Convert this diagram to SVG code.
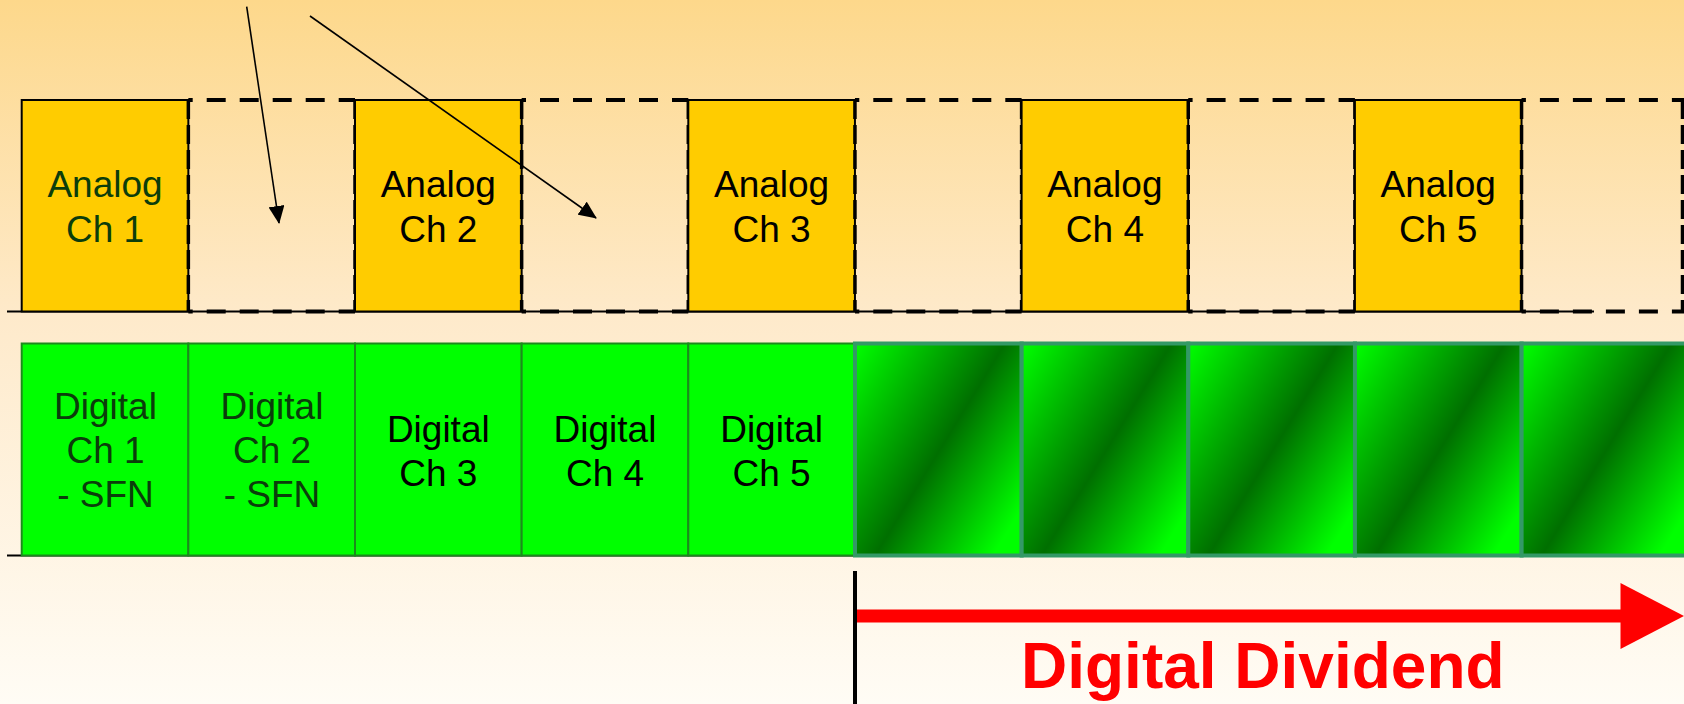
<svg xmlns="http://www.w3.org/2000/svg" width="1684" height="704" viewBox="0 0 1684 704">
  <defs>
    <linearGradient id="bg" x1="0" y1="0" x2="0" y2="1">
      <stop offset="0" stop-color="#FDD88B"/>
      <stop offset="0.45" stop-color="#FEEACB"/>
      <stop offset="1" stop-color="#FFFCF5"/>
    </linearGradient>
    <linearGradient id="dd" x1="0" y1="0" x2="1" y2="0.78">
      <stop offset="0" stop-color="#00FF00"/>
      <stop offset="0.56" stop-color="#006F00"/>
      <stop offset="1" stop-color="#00FF00"/>
    </linearGradient>
    <marker id="ah" markerUnits="userSpaceOnUse" markerWidth="18" markerHeight="16" viewBox="0 0 18 16" refX="17" refY="8" orient="auto">
      <path d="M0,0 L18,8 L0,16 Z" fill="#000"/>
    </marker>
    <style>
      .an { fill: #FFCC00; stroke: #000; stroke-width: 2; }
      .dh { stroke: #000; stroke-width: 4; stroke-dasharray: 19 14; stroke-dashoffset: 14.65; fill: none; }
      .dv { stroke: #000; stroke-width: 3.5; stroke-dasharray: 19 6; fill: none; }
      .dg { fill: #00FF00; stroke: #1D8A1D; stroke-width: 2; }
      .dd { fill: url(#dd); stroke: #339966; stroke-width: 4; }
      .t { font-family: "Liberation Sans", Arial, sans-serif; font-size: 37px; text-anchor: middle; fill: #000; }
      .tg { fill: #0B3D0B; }
      .conn { stroke: #000; stroke-width: 1.6; fill: none; marker-end: url(#ah); }
    </style>
  </defs>

  <rect x="0" y="0" width="1684" height="704" fill="url(#bg)"/>

  <!-- baselines -->
  <line x1="7" y1="311.5" x2="1594" y2="311.5" stroke="#000" stroke-width="2"/>
  <line x1="7" y1="555.5" x2="855" y2="555.5" stroke="#000" stroke-width="2"/>

  <!-- Analog row -->
  <g id="analog1">
    <rect class="an" x="21.7" y="100" width="166.65" height="211.5"/>
    <text class="t tg" x="105" y="197.3">Analog</text>
    <text class="t tg" x="105" y="241.7">Ch 1</text>
  </g>
  <g id="gap1">
    <line class="dh" x1="188.35" y1="100" x2="355" y2="100"/>
    <line class="dh" x1="188.35" y1="311.5" x2="355" y2="311.5"/>
    <line class="dv" x1="188.35" y1="100" x2="188.35" y2="311.5"/>
    <line class="dv" x1="355" y1="100" x2="355" y2="311.5"/>
  </g>
  <g id="analog2">
    <rect class="an" x="355" y="100" width="166.65" height="211.5"/>
    <text class="t" x="438.3" y="197.3">Analog</text>
    <text class="t" x="438.3" y="241.7">Ch 2</text>
  </g>
  <g id="gap2">
    <line class="dh" x1="521.65" y1="100" x2="688.3" y2="100"/>
    <line class="dh" x1="521.65" y1="311.5" x2="688.3" y2="311.5"/>
    <line class="dv" x1="521.65" y1="100" x2="521.65" y2="311.5"/>
    <line class="dv" x1="688.3" y1="100" x2="688.3" y2="311.5"/>
  </g>
  <g id="analog3">
    <rect class="an" x="688.3" y="100" width="166.65" height="211.5"/>
    <text class="t" x="771.6" y="197.3">Analog</text>
    <text class="t" x="771.6" y="241.7">Ch 3</text>
  </g>
  <g id="gap3">
    <line class="dh" x1="854.95" y1="100" x2="1021.6" y2="100"/>
    <line class="dh" x1="854.95" y1="311.5" x2="1021.6" y2="311.5"/>
    <line class="dv" x1="854.95" y1="100" x2="854.95" y2="311.5"/>
    <line class="dv" x1="1021.6" y1="100" x2="1021.6" y2="311.5"/>
  </g>
  <g id="analog4">
    <rect class="an" x="1021.6" y="100" width="166.65" height="211.5"/>
    <text class="t" x="1104.9" y="197.3">Analog</text>
    <text class="t" x="1104.9" y="241.7">Ch 4</text>
  </g>
  <g id="gap4">
    <line class="dh" x1="1188.25" y1="100" x2="1354.9" y2="100"/>
    <line class="dh" x1="1188.25" y1="311.5" x2="1354.9" y2="311.5"/>
    <line class="dv" x1="1188.25" y1="100" x2="1188.25" y2="311.5"/>
    <line class="dv" x1="1354.9" y1="100" x2="1354.9" y2="311.5"/>
  </g>
  <g id="analog5">
    <rect class="an" x="1354.9" y="100" width="166.65" height="211.5"/>
    <text class="t" x="1438.2" y="197.3">Analog</text>
    <text class="t" x="1438.2" y="241.7">Ch 5</text>
  </g>
  <g id="gap5">
    <line class="dh" x1="1521.55" y1="100" x2="1688.2" y2="100"/>
    <line class="dh" x1="1521.55" y1="311.5" x2="1688.2" y2="311.5"/>
    <line class="dv" x1="1521.55" y1="100" x2="1521.55" y2="311.5"/>
    <line class="dv" x1="1682.5" y1="100" x2="1682.5" y2="311.5"/>
  </g>

  <!-- Digital row -->
  <g id="digital1">
    <rect class="dg" x="21.7" y="343.5" width="166.65" height="212"/>
    <text class="t tg" x="105.5" y="419.3">Digital</text>
    <text class="t tg" x="105.5" y="462.7">Ch 1</text>
    <text class="t tg" x="105.5" y="506.7">- SFN</text>
  </g>
  <g id="digital2">
    <rect class="dg" x="188.35" y="343.5" width="166.65" height="212"/>
    <text class="t tg" x="272" y="419.3">Digital</text>
    <text class="t tg" x="272" y="462.7">Ch 2</text>
    <text class="t tg" x="272" y="506.7">- SFN</text>
  </g>
  <g id="digital3">
    <rect class="dg" x="355" y="343.5" width="166.65" height="212"/>
    <text class="t" x="438.3" y="442">Digital</text>
    <text class="t" x="438.3" y="486">Ch 3</text>
  </g>
  <g id="digital4">
    <rect class="dg" x="521.65" y="343.5" width="166.65" height="212"/>
    <text class="t" x="605" y="442">Digital</text>
    <text class="t" x="605" y="486">Ch 4</text>
  </g>
  <g id="digital5">
    <rect class="dg" x="688.3" y="343.5" width="166.65" height="212"/>
    <text class="t" x="771.6" y="442">Digital</text>
    <text class="t" x="771.6" y="486">Ch 5</text>
  </g>
  <g id="dividend1"><rect class="dd" x="855" y="343.5" width="166.65" height="212"/></g>
  <g id="dividend2"><rect class="dd" x="1021.65" y="343.5" width="166.65" height="212"/></g>
  <g id="dividend3"><rect class="dd" x="1188.3" y="343.5" width="166.65" height="212"/></g>
  <g id="dividend4"><rect class="dd" x="1354.95" y="343.5" width="166.65" height="212"/></g>
  <g id="dividend5"><rect class="dd" x="1521.6" y="343.5" width="166.65" height="212"/></g>

  <!-- connectors -->
  <g id="connectors">
    <line class="conn" x1="246.7" y1="6.7" x2="279" y2="223"/>
    <line class="conn" x1="310" y1="16" x2="596" y2="218"/>
  </g>

  <!-- Digital dividend marker -->
  <g id="dividend-arrow">
    <line x1="855" y1="571" x2="855" y2="704" stroke="#000" stroke-width="4"/>
    <rect x="857" y="609.5" width="766" height="13" fill="#FF0000"/>
    <path d="M1620.5,583 L1684,616 L1620.5,649 Z" fill="#FF0000"/>
    <text x="1021" y="688.3" font-family="Liberation Sans, Arial, sans-serif" font-size="64" font-weight="bold" fill="#FF0000">Digital Dividend</text>
  </g>
</svg>
